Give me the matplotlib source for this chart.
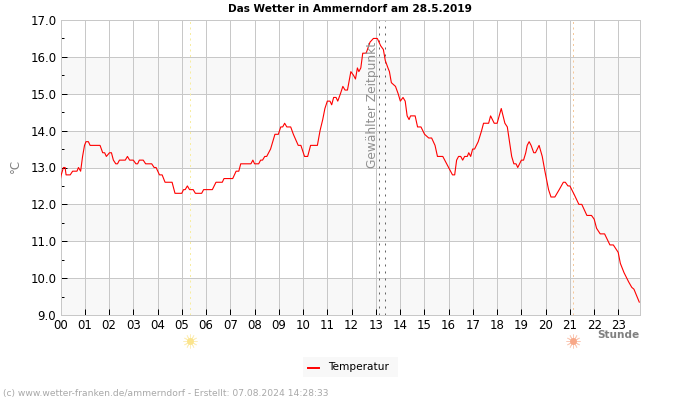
import numpy as np
import matplotlib
matplotlib.use('Agg')
from matplotlib import pyplot as plt
from matplotlib.patches import Rectangle

# values
hours = [0.0,0.03,0.12,0.19,0.23,0.40,0.50,0.68,0.74,0.83,0.91,0.99,1.05,1.15,1.22,1.63,1.74,1.82,1.89,2.02,
         2.10,2.18,2.28,2.35,2.43,2.67,2.76,2.85,3.00,3.11,3.18,3.25,3.41,3.51,3.76,3.86,3.94,4.08,4.19,4.31,
         4.60,4.72,5.00,5.07,5.14,5.23,5.32,5.47,5.56,5.82,5.90,6.26,6.41,6.67,6.74,7.10,7.24,7.35,7.43,7.85,
         7.93,8.00,8.17,8.25,8.33,8.42,8.50,8.66,8.84,8.98,9.08,9.16,9.24,9.33,9.49,9.60,9.80,9.91,10.06,10.19,
         10.31,10.59,10.70,10.81,10.90,11.00,11.11,11.18,11.26,11.36,11.43,11.54,11.64,11.73,11.83,11.97,12.08,12.16,12.24,12.30,
         12.38,12.46,12.60,12.76,12.90,13.06,13.20,13.31,13.39,13.50,13.56,13.64,13.81,13.92,14.01,14.12,14.21,14.29,14.37,14.43,
         14.62,14.72,14.86,15.01,15.18,15.30,15.44,15.54,15.76,15.92,16.08,16.16,16.25,16.33,16.41,16.50,16.58,16.66,16.77,16.83,
         16.91,16.99,17.07,17.22,17.36,17.44,17.65,17.73,17.88,18.00,18.17,18.32,18.42,18.53,18.60,18.69,18.78,18.85,19.00,19.09,
         19.18,19.24,19.32,19.40,19.51,19.58,19.73,19.86,19.97,20.12,20.22,20.38,20.56,20.73,20.81,20.92,21.00,21.19,21.37,21.49,
         21.70,21.89,22.00,22.10,22.25,22.43,22.65,22.79,22.99,23.08,23.23,23.42,23.55,23.64,23.86]
temps = [12.7,12.8,13.0,13.0,12.8,12.8,12.9,12.9,13.0,12.9,13.3,13.6,13.7,13.7,13.6,13.6,13.4,13.4,13.3,13.4,
         13.4,13.2,13.1,13.1,13.2,13.2,13.3,13.2,13.2,13.1,13.1,13.2,13.2,13.1,13.1,13.0,13.0,12.8,12.8,12.6,
         12.6,12.3,12.3,12.4,12.4,12.5,12.4,12.4,12.3,12.3,12.4,12.4,12.6,12.6,12.7,12.7,12.9,12.9,13.1,13.1,
         13.2,13.1,13.1,13.2,13.2,13.3,13.3,13.5,13.9,13.9,14.1,14.1,14.2,14.1,14.1,13.9,13.6,13.6,13.3,13.3,
         13.6,13.6,14.0,14.3,14.6,14.8,14.8,14.7,14.9,14.9,14.8,15.0,15.2,15.1,15.1,15.6,15.5,15.4,15.7,15.6,
         15.7,16.1,16.1,16.4,16.5,16.5,16.3,16.2,15.9,15.7,15.6,15.3,15.2,15.0,14.8,14.9,14.8,14.4,14.3,14.4,
         14.4,14.1,14.1,13.9,13.8,13.8,13.6,13.3,13.3,13.1,12.9,12.8,12.8,13.2,13.3,13.3,13.2,13.3,13.3,13.4,
         13.3,13.5,13.5,13.7,14.0,14.2,14.2,14.4,14.2,14.2,14.6,14.2,14.1,13.6,13.3,13.1,13.1,13.0,13.2,13.2,
         13.4,13.6,13.7,13.6,13.4,13.4,13.6,13.3,12.9,12.4,12.2,12.2,12.4,12.6,12.6,12.5,12.5,12.25,12.0,12.0,
         11.7,11.7,11.6,11.35,11.2,11.2,10.9,10.9,10.7,10.4,10.15,9.9,9.75,9.7,9.35]
hour_labels = ['%02d' % h for h in range(24)]
selected = [13.15, 13.39]
sunrise = 5.32
sunset = 21.13

fig = plt.figure(figsize=(7, 4), dpi=100)
ax = fig.add_axes([60.5/700, 1-315/400, (640-60.5)/700, 295/400])

# grey bands every second degree
for low in [9, 11, 13, 15]:
    ax.axhspan(low, low+1, color='#f8f8f8', lw=0, zorder=0)

ax.grid(True, which='major', color='#c8c8c8', lw=0.72, zorder=1)
ax.axvline(sunrise, color='#f7eca0', lw=0.72, ls=(0, (2, 3.5)), zorder=2)
ax.axvline(sunset, color='#f5c89a', lw=0.72, ls=(0, (2, 3.5)), zorder=2)
for t in selected:
    ax.axvline(t, color='#666666', lw=0.72, ls=(0, (2, 5)), zorder=2)

ax.plot(hours, temps, color='#ff0000', lw=0.8, zorder=3)

ax.set_xlim(0, 23.89)
ax.set_ylim(9, 17)
ax.set_xticks(range(24))
ax.set_xticklabels(hour_labels)
ax.set_yticks(range(9, 18))
ax.set_yticklabels(['%.1f' % v for v in range(9, 18)])
ax.set_yticks(np.arange(9.5, 17, 1), minor=True)
ax.tick_params(axis='both', which='major', direction='in', length=4, width=0.72, color='black',
               labelsize=8.5, pad=3)
ax.tick_params(axis='y', which='minor', direction='in', length=2.5, width=0.72, color='black')
for s in ax.spines.values():
    s.set_color('#c8c8c8')
    s.set_linewidth(0.72)

ax.text(12.85, 9+(315-168)/36.9, 'Gewählter Zeitpunkt', rotation=90, color='#909090', fontsize=8.8,
        ha='center', va='bottom', zorder=4)

fig.text(350/700, 1-8.5/400, 'Das Wetter in Ammerndorf am 28.5.2019', fontsize=7.6, fontweight='bold',
         ha='center', va='center')
fig.text(15.5/700, 1-166/400, '°C', rotation=90, color='#808080', fontsize=8.5, ha='center', va='center')
fig.text(639.5/700, 1-334.5/400, 'Stunde', color='#808080', fontsize=7.6, fontweight='bold', ha='right', va='center')

# sun symbols below the axis
trans = ax.get_xaxis_transform()
for t, col in [(sunrise, '#fbe48c'), (sunset, '#f8a888')]:
    ax.plot([t], [-0.088], marker=(12, 2, 0), ms=10, mew=0.6, color=col, alpha=0.6, transform=trans, clip_on=False)
    ax.plot([t], [-0.088], marker='o', ms=5, mew=0, color=col, transform=trans, clip_on=False)

# legend by hand, the box sits outside the axes
fig.add_artist(Rectangle((303/700, 1-377/400), 95/700, 20/400, transform=fig.transFigure, color='#f8f8f8', lw=0))
fig.add_artist(plt.Line2D([308/700, 319/700], [1-367.5/400]*2, color='#ff0000', lw=1.4))
fig.text(328/700, 1-367/400, 'Temperatur', fontsize=7.6, ha='left', va='center')

fig.text(3/700, 1-393.5/400, '(c) www.wetter-franken.de/ammerndorf - Erstellt: 07.08.2024 14:28:33',
         color='#a8a8a8', fontsize=6.6, ha='left', va='center')

fig.savefig('out.png', dpi=100)
